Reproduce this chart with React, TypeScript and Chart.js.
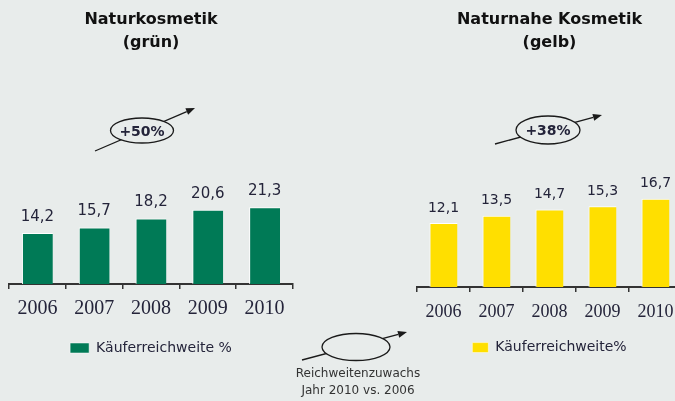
import React, { useEffect, useRef } from "react";
import { Chart, registerables } from "chart.js";

Chart.register(...registerables);

const years = ["2006", "2007", "2008", "2009", "2010"];
const naturkosmetik = [14.2, 15.7, 18.2, 20.6, 21.3];
const naturnahe = [12.1, 13.5, 14.7, 15.3, 16.7];
const titleLeft = ["Naturkosmetik", "(grün)"];
const titleRight = ["Naturnahe Kosmetik", "(gelb)"];
const legendLeft = "Käuferreichweite %";
const legendRight = "Käuferreichweite%";
const keyLines = ["Reichweitenzuwachs", "Jahr 2010 vs. 2006"];

const BG = "#e8eceb";
const TEXT = "#24243a";

const fmt = (v: number) => v.toFixed(1).replace(".", ",");
const growth = (arr: number[]) => Math.round((arr[arr.length - 1] / arr[0] - 1) * 100);

const valueLabels = (offset: number, size: number) => ({
  id: "valueLabels",
  afterDatasetsDraw(chart: any) {
    const ctx = chart.ctx;
    const meta = chart.getDatasetMeta(0);
    const data = chart.data.datasets[0].data as number[];
    ctx.save();
    ctx.font = `${size}px "DejaVu Sans"`;
    ctx.fillStyle = TEXT;
    ctx.textAlign = "center";
    ctx.textBaseline = "middle";
    meta.data.forEach((bar: any, i: number) => {
      ctx.fillText(fmt(data[i]), bar.x, bar.y - offset);
    });
    ctx.restore();
  },
});

type Cfg = {
  data: number[];
  title: string[];
  label: string;
  color: string;
  barPct: number;
  max: number;
  pad: { left: number; right: number; bottom: number };
  titlePadBottom: number;
  tickSize: number;
  tickPad: number;
  legendPad: number;
  boxWidth: number;
  valueOffset: number;
  valueSize: number;
};

function BarChart({ cfg, style }: { cfg: Cfg; style: React.CSSProperties }) {
  const ref = useRef<HTMLCanvasElement>(null);
  useEffect(() => {
    if (!ref.current) return;
    const chart = new Chart(ref.current, {
      type: "bar",
      data: {
        labels: years,
        datasets: [
          {
            label: cfg.label,
            data: cfg.data,
            backgroundColor: cfg.color,
            borderColor: "#ffffff",
            borderWidth: { top: 1, left: 1, right: 0, bottom: 0 } as any,
            borderSkipped: false,
            categoryPercentage: 1,
            barPercentage: cfg.barPct,
          },
        ],
      },
      options: {
        animation: false,
        responsive: false,
        devicePixelRatio: 1,
        layout: { padding: { top: 0, left: cfg.pad.left, right: cfg.pad.right, bottom: cfg.pad.bottom } },
        plugins: {
          title: {
            display: true,
            text: cfg.title,
            color: "#111111",
            font: { family: "DejaVu Sans", size: 16, weight: "bold", lineHeight: "23px" as any },
            padding: { top: 8.5, bottom: cfg.titlePadBottom },
          },
          legend: {
            display: true,
            position: "bottom",
            labels: {
              boxWidth: cfg.boxWidth,
              boxHeight: 10,
              padding: cfg.legendPad,
              color: TEXT,
              font: { family: "DejaVu Sans", size: 14 },
            },
          },
          tooltip: { enabled: false },
        },
        scales: {
          x: {
            offset: true,
            grid: {
              display: true,
              drawOnChartArea: false,
              drawTicks: true,
              tickLength: 5,
              color: "#333333",
              lineWidth: 1.5,
              offset: true,
            },
            border: { display: true, color: "#333333", width: 2 },
            ticks: {
              color: TEXT,
              font: { family: "Liberation Serif", size: cfg.tickSize },
              padding: cfg.tickPad,
            },
          },
          y: { display: false, min: 0, max: cfg.max },
        },
      },
      plugins: [valueLabels(cfg.valueOffset, cfg.valueSize)],
    });
    return () => chart.destroy();
  }, []);
  return <canvas ref={ref} width={style.width as number} height={style.height as number} style={{ position: "absolute", ...style }} />;
}

function Arrow({ x1, y1, x2, y2, cx, cy, rx, ry, text, bold }: any) {
  const ang = Math.atan2(y2 - y1, x2 - x1);
  const L = 9;
  const W = 3.5;
  const bx = x2 - L * Math.cos(ang);
  const by = y2 - L * Math.sin(ang);
  const p1 = `${x2},${y2}`;
  const p2 = `${bx + W * Math.sin(ang)},${by - W * Math.cos(ang)}`;
  const p3 = `${bx - W * Math.sin(ang)},${by + W * Math.cos(ang)}`;
  return (
    <g>
      <line x1={x1} y1={y1} x2={bx} y2={by} stroke="#1a1a1a" strokeWidth={1.3} />
      <polygon points={`${p1} ${p2} ${p3}`} fill="#1a1a1a" />
      <ellipse cx={cx} cy={cy} rx={rx} ry={ry} fill={BG} stroke="#1a1a1a" strokeWidth={1.3} />
      {text ? (
        <text x={cx} y={cy + 1} textAnchor="middle" dominantBaseline="middle" fontFamily="DejaVu Sans" fontSize={14} fontWeight={bold ? "bold" : "normal"} fill={TEXT}>
          {text}
        </text>
      ) : null}
    </g>
  );
}

export default function App() {
  const left: Cfg = {
    data: naturkosmetik,
    title: titleLeft,
    label: legendLeft,
    color: "#007a56",
    barPct: 31 / 57,
    max: 30,
    pad: { left: 9, right: 9, bottom: 36 },
    titlePadBottom: 121.5,
    tickSize: 20,
    tickPad: 8,
    legendPad: 12,
    boxWidth: 19,
    valueOffset: 16,
    valueSize: 15,
  };
  const right: Cfg = {
    data: naturnahe,
    title: titleRight,
    label: legendRight,
    color: "#ffdf00",
    barPct: 28 / 53,
    max: 20,
    pad: { left: 5, right: 6, bottom: 36.4 },
    titlePadBottom: 126.9,
    tickSize: 18,
    tickPad: 9,
    legendPad: 9,
    boxWidth: 16,
    valueOffset: 15,
    valueSize: 14,
  };
  return (
    <div style={{ position: "fixed", left: 0, top: 0, width: 675, height: 401, overflow: "hidden", background: BG }}>
      <BarChart cfg={left} style={{ left: 0, top: 0, width: 302, height: 401 }} />
      <BarChart cfg={right} style={{ left: 412, top: 0, width: 276, height: 401 }} />
      <svg width={675} height={401} style={{ position: "absolute", left: 0, top: 0 }}>
        <Arrow x1={95} y1={151} x2={195} y2={108} cx={142} cy={130.5} rx={31.5} ry={12.5} text={`+${growth(naturkosmetik)}%`} bold />
        <Arrow x1={495} y1={144} x2={602} y2={115} cx={548} cy={130} rx={32} ry={14} text={`+${growth(naturnahe)}%`} bold />
        <Arrow x1={302} y1={360} x2={407} y2={332} cx={356} cy={347} rx={34} ry={13.5} />
        {keyLines.map((t, i) => (
          <text key={i} x={358} y={373 + i * 17} textAnchor="middle" dominantBaseline="middle" fontFamily="DejaVu Sans" fontSize={12} fill="#333333">
            {t}
          </text>
        ))}
      </svg>
    </div>
  );
}
